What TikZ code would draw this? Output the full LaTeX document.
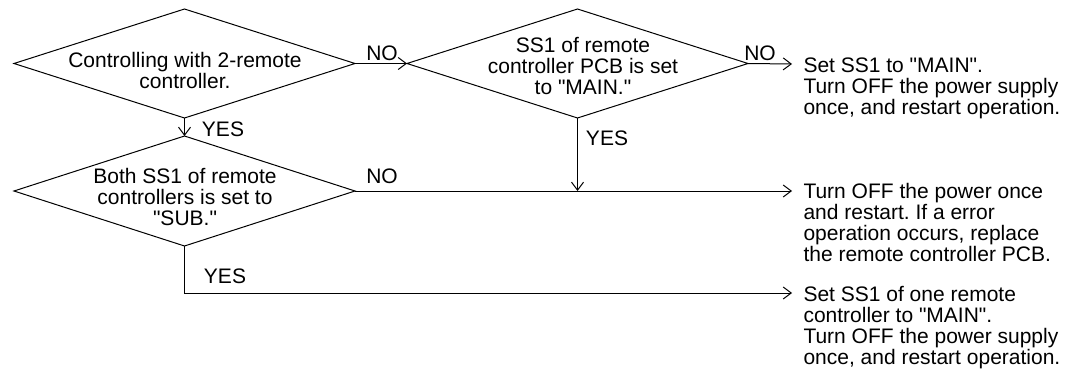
\documentclass[tikz,border=0pt]{standalone}
\usepackage{fontspec}
\setmainfont{Liberation Sans}[Ligatures=TeXOff]
\usetikzlibrary{arrows.meta,shapes.geometric,calc}
\frenchspacing

\begin{document}
\begin{tikzpicture}[x=1pt, y=-1pt, line width=1pt, >={Straight Barb[length=8pt,width=12pt]},
    font=\fontsize{21}{21}\selectfont,
    decision/.style={diamond, draw, minimum width=341pt, minimum height=109pt, inner sep=0pt, outer sep=0pt},
    qtext/.style={align=center, inner sep=0pt, anchor=base},
    lbl/.style={inner sep=0pt, anchor=base},
    result/.style={align=left, inner sep=0pt, anchor=base west}]
        \useasboundingbox (0,0) rectangle (1077,372);

        % Decisoes
        \node[decision] (q1) at (184.5,63.5) {};
        \node[decision] (q2) at (577.5,63.5) {};
        \node[decision, minimum height=110pt] (q3) at (184.5,191) {};
        % (base = ultima linha do texto)
        \node[qtext] (t1) at (185,88) {Controlling with 2-remote\\controller.};
        \node[qtext] (t2) at (583,94) {SS1 of remote\\controller PCB is set\\to "MAIN."};
        \node[qtext] (t3) at (185,225) {Both SS1 of remote\\controllers is set to\\"SUB."};

        % Pontos de chegada
        \coordinate (e1) at (792,64);
        \coordinate (e2) at (792,191);
        \coordinate (e3) at (792,293);

        % Ligacoes
        \draw[->] (q1.east) -- (q2.west);
        \draw[->] (q2.east) -- (e1);
        \draw[->] (q1.south) -- (q3.north);
        \draw[->] (q2.south) -- (q2.south |- q3.east);
        \draw[->] (q3.east) -- (e2);
        \draw[->] (q3.south) |- (e3);

        % Rotulos
        \node[lbl] (no1) at (382,60) {NO};
        \node[lbl] (no2) at (760,60) {NO};
        \node[lbl] (no3) at (382,183) {NO};
        \node[lbl] (yes1) at (223,136) {YES};
        \node[lbl] (yes2) at (607,145) {YES};
        \node[lbl] (yes3) at (225,283) {YES};

        % Resultados
        \node[result] (r1) at (803,114) {Set SS1 to "MAIN".\\Turn OFF the power supply\\once, and restart operation.};
        \node[result] (r2) at (803,261) {Turn OFF the power once\\and restart. If a error\\operation occurs, replace\\the remote controller PCB.};
        \node[result] (r3) at (803,364) {Set SS1 of one remote\\controller to "MAIN".\\Turn OFF the power supply\\once, and restart operation.};
    \end{tikzpicture}
\end{document}
